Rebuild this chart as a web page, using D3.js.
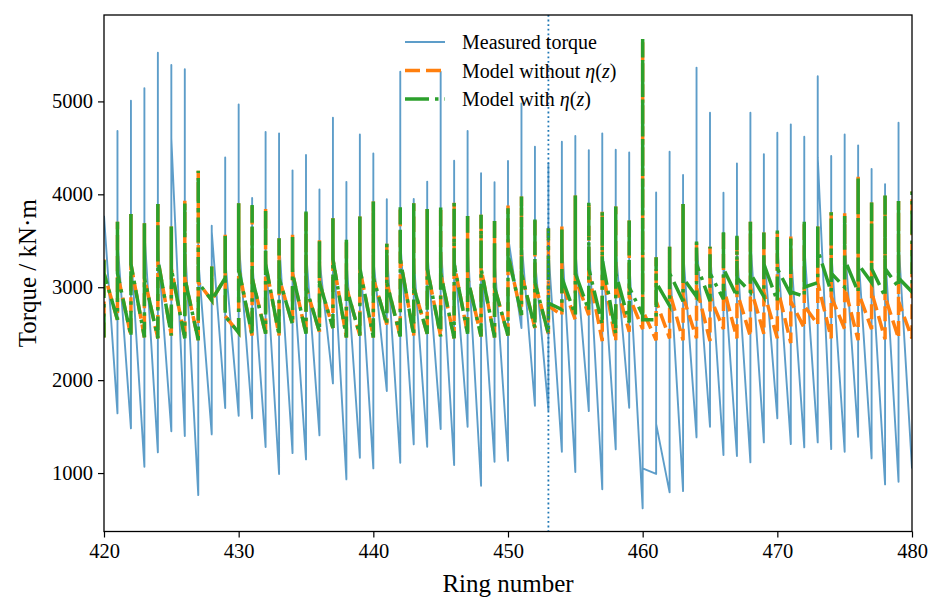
<!DOCTYPE html>
<html>
<head>
<meta charset="utf-8">
<title>Torque vs ring number</title>
<style>
  body { margin: 0; background: #fff; }
</style>
</head>
<body>
<svg id="chart" width="941" height="611"></svg>
<script src="https://d3js.org/d3.v7.min.js"></script>
<script>
// ring numbers shown on the x axis
var rings = [420, 421, 422, 423, 424, 425, 426, 427, 428, 429,
             430, 431, 432, 433, 434, 435, 436, 437, 438, 439,
             440, 441, 442, 443, 444, 445, 446, 447, 448, 449,
             450, 451, 452, 453, 454, 455, 456, 457, 458, 459,
             460, 461, 462, 463, 464, 465, 466, 467, 468, 469,
             470, 471, 472, 473, 474, 475, 476, 477, 478, 479, 480];

// measured torque: value reached at ring start, peak, value after the peak
var measuredLow = [3770, 1643, 1481, 1068, 1223, 1450, 1398, 763, 1416, 1700,
                   1617, 1589, 1280, 990, 1215, 1147, 1406, 1965, 932, 1165,
                   1050, 1883, 1111, 1309, 1283, 1474, 1086, 1498, 863, 1122,
                   1132, 2560, 1725, 1678, 1229, 1011, 1667, 825, 1255, 1703,
                   620, 990, 792, 806, 1384, 1498, 1194, 1183, 1115, 1330,
                   1589, 1312, 1277, 1330, 1258, 1229, 1390, 1158, 878, 906, 1050];
var measuredPeak = [3770, 4681, 5008, 5141, 5525, 5392, 5346, 4200, 3662, 4397,
                    4968, 3960, 4670, 4656, 4258, 4423, 4053, 4824, 4134, 4645,
                    4440, 3948, 5320, 3950, 4137, 5320, 4362, 4681, 4226, 4130,
                    4358, 4979, 4512, 4333, 4566, 4627, 4476, 4656, 4480, 4451,
                    3800, 4020, 4458, 4208, 5364, 4878, 4017, 4333, 4878, 4433,
                    4663, 4753, 4620, 5270, 4412, 4645, 4527, 4272, 4110, 4771, 1050];
var measuredAfter = [3770, 3500, 3400, 3600, 3450, 4600, 3500, 3300, 3600, 3300,
                     3500, 3300, 3400, 3500, 3300, 3400, 3300, 3500, 3300, 3400,
                     3300, 3400, 3500, 3300, 3400, 3500, 3400, 3450, 3300, 3300,
                     3550, 3500, 3300, 3400, 3500, 3400, 3500, 3450, 3400, 3300,
                     1050, 1530, 3300, 3400, 3500, 3400, 3300, 3400, 3500, 3400,
                     3450, 3400, 3450, 4400, 3400, 3500, 3400, 3300, 3400, 3500, 1050];

// model without eta(z)
var plainBottom = [2460, 2650, 2475, 2461, 2450, 2480, 2450, 2430, 2860, 3100,
                   2510, 2480, 2500, 2480, 2600, 2500, 2520, 2560, 2460, 2480,
                   2460, 2600, 2470, 2480, 2500, 2470, 2450, 2500, 2470, 2460,
                   2480, 2700, 2560, 2500, 2700, 2650, 2700, 2420, 2420, 2520,
                   2550, 2430, 2450, 2430, 2450, 2420, 2550, 2450, 2470, 2500,
                   2450, 2400, 2560, 2600, 2450, 2550, 2430, 2550, 2440, 2450, 2450];
var plainTop = [3300, 3706, 3789, 3689, 3897, 3653, 3932, 4254, 3222, 3564,
                3905, 3886, 3850, 3528, 3564, 3815, 3510, 3743, 3510, 3761,
                3922, 3467, 3860, 3904, 3843, 3857, 3908, 3768, 3779, 3714,
                3879, 3976, 3750, 3635, 3653, 3987, 3920, 3815, 3868, 3743,
                5650, 3323, 3437, 3897, 3492, 3437, 3610, 3553, 3706, 3589,
                3610, 3546, 3706, 3653, 3807, 3797, 4190, 3911, 3987, 3929, 4030];
var plainStart = [3150, 3150, 3250, 3100, 3300, 3200, 3100, 3050, 2860, 2690,
                  3200, 3100, 3250, 3100, 3150, 3000, 3050, 3300, 3000, 3200,
                  3100, 3050, 3300, 3000, 3200, 3150, 3250, 3100, 3200, 3000,
                  3350, 3150, 3050, 2800, 3050, 3100, 3150, 3200, 3050, 2900,
                  2750, 2850, 2950, 2900, 3000, 2900, 3000, 2950, 3000, 2950,
                  3000, 2850, 2800, 3050, 2900, 3000, 2950, 2950, 2900, 2850, 4030];

// model with eta(z)
var etaBottom = [2460, 2650, 2475, 2461, 2450, 2480, 2450, 2430, 2860, 3100,
                 2510, 2480, 2500, 2480, 2600, 2500, 2520, 2560, 2460, 2480,
                 2460, 2600, 2470, 2480, 2500, 2470, 2450, 2500, 2470, 2460,
                 2480, 2700, 2560, 2500, 2760, 2700, 2750, 2600, 2500, 2620,
                 2700, 2650, 2800, 2850, 2900, 2850, 2870, 2900, 2950, 2900,
                 2850, 2920, 2900, 3050, 2950, 3000, 2950, 3050, 2900, 3000, 2950];
var etaTop = [3300, 3706, 3789, 3689, 3897, 3653, 3932, 4254, 3222, 3564,
              3905, 3886, 3850, 3528, 3564, 3815, 3510, 3743, 3510, 3761,
              3922, 3467, 3860, 3904, 3843, 3857, 3908, 3768, 3779, 3714,
              3879, 3976, 3750, 3635, 3653, 3987, 3920, 3815, 3868, 3743,
              5672, 3323, 3437, 3897, 3492, 3437, 3610, 3553, 3706, 3589,
              3610, 3546, 3706, 3653, 3807, 3797, 4190, 3911, 3987, 3929, 4030];
var etaStart = [3150, 3150, 3250, 3100, 3300, 3200, 3100, 3050, 2860, 2690,
                3200, 3100, 3250, 3100, 3150, 3000, 3050, 3300, 3000, 3200,
                3100, 3050, 3300, 3000, 3200, 3150, 3250, 3100, 3200, 3000,
                3350, 3150, 3050, 2830, 3100, 3150, 3200, 3300, 3150, 3000,
                2650, 3050, 3150, 3100, 3250, 3150, 3200, 3100, 3150, 3250,
                3200, 2950, 3000, 3400, 3150, 3300, 3250, 3200, 3200, 3100, 4030];

var xTicks = [420, 430, 440, 450, 460, 470, 480];
var yTicks = [1000, 2000, 3000, 4000, 5000];
var markerRing = 453;

var serif = "'Liberation Serif', 'Times New Roman', Times, 'DejaVu Serif', serif";

var margin = { left: 104, right: 29, top: 15, bottom: 79.5 };
var width = 941 - margin.left - margin.right;
var height = 611 - margin.top - margin.bottom;

var svg = d3.select("#chart");
var g = svg.append("g").attr("transform", "translate(" + margin.left + "," + margin.top + ")");

var x = d3.scaleLinear().domain([420, 480]).range([0, width]);
var y = d3.scaleLinear().domain([371, 5930]).range([height, 0]);

svg.append("defs").append("clipPath").attr("id", "plotclip")
    .append("rect").attr("width", width).attr("height", height);

// turn the three values per ring into a path: jump at the ring, then slide to the next one
function toPoints(a, b, c) {
    var pts = [];
    rings.forEach(function (r, i) {
        pts.push([r, a[i]]);
        pts.push([r, b[i]]);
        pts.push([r, c[i]]);
    });
    return pts;
}

var line = d3.line().x(function (d) { return x(d[0]); }).y(function (d) { return y(d[1]); });

var plot = g.append("g").attr("clip-path", "url(#plotclip)");

plot.append("path")
    .attr("d", line(toPoints(measuredLow, measuredPeak, measuredAfter)))
    .attr("fill", "none")
    .attr("stroke", "#1f77b4")
    .attr("stroke-opacity", 0.72)
    .attr("stroke-width", 1.9)
    .attr("stroke-linejoin", "round");

plot.append("path")
    .attr("d", line(toPoints(plainBottom, plainTop, plainStart)))
    .attr("fill", "none")
    .attr("stroke", "#ff7f0e")
    .attr("stroke-width", 3.5)
    .attr("stroke-dasharray", "15,6");

plot.append("path")
    .attr("d", line(toPoints(etaBottom, etaTop, etaStart)))
    .attr("fill", "none")
    .attr("stroke", "#2ca02c")
    .attr("stroke-width", 3.5)
    .attr("stroke-dasharray", "24,6,3.5,6");

plot.append("line")
    .attr("x1", x(markerRing)).attr("x2", x(markerRing))
    .attr("y1", 0).attr("y2", height)
    .attr("stroke", "#1f77b4")
    .attr("stroke-width", 1.8)
    .attr("stroke-dasharray", "1.8,2.8");

// axes
var xAxis = g.append("g").attr("transform", "translate(0," + height + ")")
    .call(d3.axisBottom(x).tickValues(xTicks).tickSize(6).tickPadding(6).tickFormat(d3.format("d")));
var yAxis = g.append("g")
    .call(d3.axisLeft(y).tickValues(yTicks).tickSize(6).tickPadding(5).tickFormat(d3.format("d")));

[xAxis, yAxis].forEach(function (a) {
    a.attr("font-family", serif);
    a.select(".domain").remove();
    a.selectAll("line").attr("stroke", "#000").attr("stroke-width", 1.2);
    a.selectAll("text").style("font-family", serif).style("font-size", "20.5px").attr("fill", "#000");
});

g.append("rect")
    .attr("width", width).attr("height", height)
    .attr("fill", "none").attr("stroke", "#000").attr("stroke-width", 1.3);

svg.append("text")
    .attr("x", margin.left + width / 2).attr("y", 592)
    .attr("text-anchor", "middle")
    .style("font-family", serif)
    .style("font-size", "25px")
    .text("Ring number");

svg.append("text")
    .attr("transform", "translate(36," + (margin.top + height / 2) + ") rotate(-90)")
    .attr("text-anchor", "middle")
    .style("font-family", serif)
    .style("font-size", "25px")
    .text("Torque / kN·m");

// legend
var legendItems = [
    { label: "Measured torque", eta: false, color: "#1f77b4", width: 1.9, dash: null, opacity: 0.72 },
    { label: "Model without ", eta: true, color: "#ff7f0e", width: 3.5, dash: "15,6", opacity: 1 },
    { label: "Model with ", eta: true, color: "#2ca02c", width: 3.5, dash: "24,6,3.5,6", opacity: 1 }
];

var legend = svg.append("g").attr("transform", "translate(405,42)");
legendItems.forEach(function (item, i) {
    var row = legend.append("g").attr("transform", "translate(0," + (i * 28.5) + ")");
    row.append("line")
        .attr("x1", 0).attr("x2", 40)
        .attr("stroke", item.color)
        .attr("stroke-width", item.width)
        .attr("stroke-opacity", item.opacity)
        .attr("stroke-dasharray", item.dash);
    var t = row.append("text").attr("x", 57).attr("dy", "0.35em")
        .style("font-family", serif).style("font-size", "20px");
    t.append("tspan").text(item.label);
    if (item.eta) {
        t.append("tspan").style("font-style", "italic").text("η");
        t.append("tspan").text("(");
        t.append("tspan").style("font-style", "italic").text("z");
        t.append("tspan").text(")");
    }
});
</script>
</body>
</html>
